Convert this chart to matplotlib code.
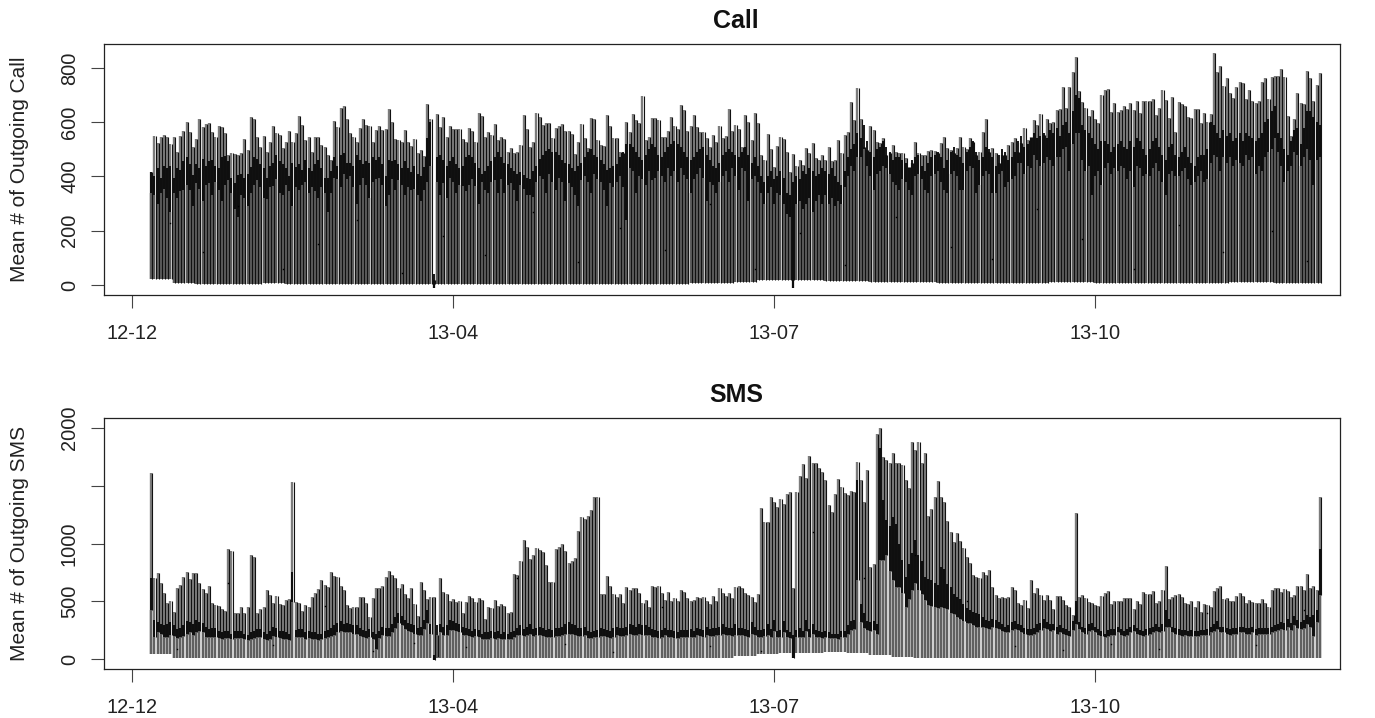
import numpy as np
import matplotlib
matplotlib.use("Agg")
import matplotlib.pyplot as plt

plt.rcParams['font.family'] = ['Liberation Sans', 'DejaVu Sans']

# first day on the axis (days counted from the 12-12 tick)
first_day = 6

tick_days = [0, 100, 200, 300]
tick_labels = ['12-12', '13-04', '13-07', '13-10']

# daily peak, outgoing calls
call_top = [
    418,549,522,544,553,547,519,544,491,549,569,601,564,507,537,611,581,593,596,565,
    547,586,581,559,479,488,483,479,488,539,498,618,611,544,507,549,491,528,586,559,
    553,504,528,569,528,559,623,590,534,547,491,544,544,516,510,479,461,606,581,651,
    661,611,559,547,528,577,612,590,584,528,571,584,571,574,647,600,538,534,528,571,
    528,512,539,485,498,475,667,612,20,630,581,620,547,584,576,574,574,537,528,577,
    569,528,635,623,547,565,553,592,534,547,537,491,506,488,491,516,625,574,510,528,
    635,618,590,596,598,541,577,586,593,569,569,557,483,528,593,541,504,614,612,534,
    516,512,627,584,541,541,491,488,602,565,630,608,596,697,534,547,614,614,608,547,
    547,569,620,584,574,664,645,569,584,627,581,565,565,541,510,553,528,584,541,549,
    647,569,590,574,510,627,602,
    534,635,598,479,461,557,500,436,512,544,539,491,418,482,439,461,442,506,485,525,
    467,461,479,461,510,458,461,534,485,553,565,673,608,725,611,510,498,584,571,528,
    522,543,479,485,516,491,488,485,467,436,451,526,485,479,479,494,498,494,485,522,
    547,504,498,488,504,547,510,500,543,528,479,491,565,611,491,504,485,448,479,479,
    516,528,541,491,525,577,534,547,608,590,630,553,611,596,602,645,647,729,651,729,
    786,839,713,676,651,623,645,611,596,700,719,722,639,670,639,643,661,647,670,645,
    678,633,678,678,678,684,627,651,719,682,614,694,565,676,667,660,620,614,649,649,
    596,635,602,630,854,786,807,735,762,709,688,731,749,746,684,719,679,672,679,747,
    762,684,768,770,770,795,765,623,549,611,706,670,667,790,762,678,737,780,
]

# upper and lower edge of the dark daily band, outgoing calls
call_hi = [
    415,400,430,395,440,430,440,395,430,425,
    455,470,445,405,445,430,465,440,455,460,
    440,430,470,475,455,395,375,405,410,395,
    410,435,470,465,445,430,395,440,450,480,
    455,445,430,400,450,435,445,425,460,430,
    420,445,460,430,395,395,420,470,440,480,
    485,450,450,440,480,460,445,455,450,470,
    460,470,445,400,460,455,460,445,430,455,
    430,415,440,410,400,435,540,600,40,470,
    480,460,440,455,470,445,430,440,470,480,
    470,450,430,410,420,440,455,470,490,470,
    450,445,430,420,410,415,405,395,390,420,
    440,465,480,495,500,490,490,480,460,450,
    445,430,420,440,450,470,490,500,480,470,
    460,445,425,430,440,445,470,490,520,520,
    510,490,470,460,480,500,520,510,480,470,
    490,510,520,530,520,510,490,470,460,470,
    490,500,510,480,460,440,430,450,480,490,
    500,490,480,470,490,510,480,450,470,440,
    400,380,400,420,390,400,420,395,340,330,
    380,400,390,420,410,430,420,400,410,430,
    420,410,430,400,380,370,420,470,500,520,
    560,540,590,530,490,470,500,510,530,510,
    490,460,470,470,460,450,430,460,470,480,
    440,420,450,470,480,490,470,430,460,490,
    510,480,470,450,490,510,530,490,460,470,
    510,500,470,440,480,500,490,460,470,490,
    530,550,510,520,540,560,540,550,560,540,
    570,560,580,550,590,600,560,640,700,690,
    590,570,560,540,520,500,530,530,520,490,
    510,520,530,510,500,530,510,540,530,500,
    480,500,530,540,510,480,460,510,520,480,
    470,490,510,470,450,440,470,480,480,500,
    600,590,560,540,570,550,560,530,540,560,
    530,560,550,540,530,540,560,600,610,640,
    660,560,540,500,480,530,570,580,520,580,
    640,640,620,600,590,
]
call_lo = [
    340,330,300,340,355,320,270,340,320,345,
    350,370,350,290,375,355,310,370,375,330,
    380,350,310,370,385,340,280,250,330,320,
    290,340,370,385,360,320,315,360,365,390,
    340,330,370,345,290,360,350,370,380,340,
    360,345,320,360,340,270,340,395,390,360,
    410,390,400,360,300,370,395,370,320,380,
    390,395,370,290,330,390,350,385,370,330,
    360,350,355,330,310,350,380,440,-12,380,
    330,375,320,395,380,340,370,365,345,370,
    390,365,300,380,350,340,380,385,340,390,
    340,370,375,350,310,370,355,330,330,325,
    380,400,390,340,410,380,350,395,380,310,
    375,360,330,290,385,400,380,340,410,390,
    380,350,290,375,360,380,400,360,240,430,
    420,340,400,390,370,420,385,395,420,400,
    380,430,400,420,380,430,405,390,340,390,
    410,430,395,310,380,370,340,380,400,420,
    380,430,400,350,430,420,310,390,400,380,
    340,300,340,360,300,340,330,300,260,250,
    -10,300,310,280,300,320,270,310,330,300,
    330,300,320,290,310,300,360,400,440,420,
    470,470,500,440,400,350,410,420,440,430,
    410,380,370,350,390,380,350,330,400,410,
    390,350,340,400,410,420,380,350,340,410,
    420,400,350,350,420,440,430,340,370,400,
    420,410,340,340,410,420,360,380,390,400,
    450,450,410,440,430,480,460,440,450,470,
    460,440,470,470,500,510,420,520,560,560,
    460,420,440,330,400,420,370,430,450,410,
    430,420,440,430,390,420,360,440,430,400,
    410,400,430,450,420,380,330,410,420,400,
    400,420,430,390,370,380,400,420,380,390,
    450,480,470,420,470,450,470,440,460,450,
    440,480,460,470,410,440,420,470,490,500,
    540,490,440,380,420,440,490,480,440,470,
    500,460,370,460,470,
]
# lowest value per week, outgoing calls
call_floor = [22,8,5,4,4,6,4,4,4,4,4,5,4,5,4,4,4,5,5,5,5,5,5,5,6,8,12,18,18,17,16,14,12,10,10,
              8,8,8,8,8,10,10,8,8,8,8,8,8,10,10,8,8,8]

# daily peak, outgoing SMS
sms_top = [
    1607,698,741,660,574,482,502,410,612,640,707,756,689,741,741,660,603,574,634,487,
    467,459,433,418,949,938,395,395,453,401,453,900,880,395,430,453,597,554,482,548,
    472,467,511,516,1529,496,482,418,467,447,539,574,603,684,640,620,756,718,707,632,
    597,467,438,447,447,539,539,487,366,525,612,612,635,713,764,727,698,612,649,562,
    525,612,472,370,664,597,522,539,539,20,698,583,562,505,515,490,
    502,401,496,545,525,496,525,511,343,453,438,511,459,476,459,395,407,736,727,851,
    1030,972,863,900,958,943,923,814,669,669,949,972,995,938,828,851,877,1108,1232,1212,
    1238,1290,1405,1405,562,562,718,635,562,534,562,487,620,597,617,617,574,487,511,453,
    635,626,635,574,511,583,505,525,502,597,583,525,502,511,534,525,539,505,473,548,
    505,612,574,548,574,531,620,635,612,574,554,534,496,560,1310,1189,1189,1399,
    1362,1313,1382,1342,1428,1448,612,1448,1584,1688,1564,1757,1700,1700,1651,1622,1550,1333,1275,1428,
    1555,1492,1434,1420,1457,1448,1708,1550,1362,1636,799,822,1948,2000,1746,1723,1694,1780,1700,1694,
    1679,1550,1477,1881,1809,1876,1700,1786,1238,1296,1399,1541,1399,1362,1197,1102,1016,1094,1024,958,
    886,828,727,713,698,756,727,770,626,554,525,539,525,539,626,597,487,467,511,438,
    684,568,612,554,511,554,511,430,545,545,511,467,453,381,1261,539,554,525,496,482,
    467,459,548,574,591,476,502,502,502,531,525,525,430,505,476,583,562,562,586,482,
    502,597,805,516,539,554,562,539,482,476,499,453,502,404,476,464,453,586,617,632,
    516,528,502,502,548,568,548,482,511,496,487,482,516,482,447,597,612,617,583,603,
    586,534,554,632,632,597,733,612,632,597,1399,
]

# upper and lower edge of the dark daily band, outgoing SMS
sms_hi = [
    700,340,320,300,290,300,320,290,260,270,
    290,330,320,300,340,320,310,280,260,270,
    270,240,230,240,240,220,240,240,240,220,
    210,230,240,260,260,230,220,240,280,270,
    240,240,230,220,750,250,260,260,230,240,
    230,230,220,220,240,250,270,290,310,330,
    300,310,300,290,290,270,250,240,260,230,
    220,240,280,270,270,300,360,400,370,340,
    310,300,290,270,280,340,420,300,30,290,
    300,280,290,340,330,310,300,280,270,260,
    240,260,250,220,230,230,240,230,240,220,
    230,220,230,240,270,290,260,280,300,260,
    270,280,270,250,260,250,270,270,280,300,
    320,300,290,270,270,280,240,230,240,250,
    270,260,250,240,270,280,270,270,280,300,
    290,280,300,290,290,280,260,250,240,250,
    270,250,250,240,230,250,250,250,260,240,
    270,260,250,280,260,270,270,280,300,280,
    270,270,300,270,270,260,250,320,280,250,
    250,260,300,260,340,240,250,330,250,230,
    210,250,270,240,340,260,300,250,240,230,
    240,230,220,220,220,240,240,290,330,340,
    1550,480,400,330,320,330,300,1824,1376,1200,
    1150,1232,1170,1000,857,712,820,920,1030,900,
    850,712,690,680,655,640,800,780,650,620,
    560,540,520,480,440,424,410,400,390,366,
    340,330,350,340,320,300,280,290,320,330,
    300,290,270,260,260,270,300,310,350,320,
    300,300,280,290,270,260,240,330,500,320,
    280,270,300,310,280,260,240,220,250,260,
    260,280,260,240,260,280,290,270,250,240,
    260,270,280,300,280,300,420,350,280,270,
    260,250,250,240,250,240,240,250,250,260,
    280,300,330,280,280,270,260,270,270,280,
    280,270,270,280,260,270,270,270,270,280,
    290,300,320,310,350,310,370,340,320,340,
    380,360,380,420,950,
]
sms_lo = [
    420,190,230,220,190,190,210,200,180,190,
    200,220,230,210,230,240,230,190,190,190,
    190,180,170,180,180,170,180,180,180,170,
    160,170,180,190,190,170,160,170,200,190,
    180,170,170,160,490,190,190,190,170,180,
    170,170,160,170,180,190,200,210,230,240,
    230,230,230,220,220,200,190,180,190,170,
    90,180,210,200,200,230,270,310,290,260,
    240,230,220,210,210,260,310,220,-10,210,
    230,210,210,250,250,240,230,210,210,200,
    190,200,190,170,170,170,180,170,180,170,
    170,170,170,190,210,210,200,210,220,200,
    210,210,200,190,190,190,200,200,210,220,
    220,220,210,200,200,210,180,180,190,190,
    200,200,190,180,190,210,200,200,210,220,
    210,210,220,210,210,210,190,190,180,190,
    210,190,190,180,180,190,190,190,190,190,
    210,200,190,210,200,200,210,210,220,210,
    210,200,210,210,210,200,190,220,210,190,
    190,200,210,190,240,190,190,230,190,180,
    5,190,190,190,240,190,220,190,190,180,
    190,180,180,180,170,190,190,220,250,260,
    680,320,270,250,240,250,220,857,857,900,
    760,684,626,620,568,453,520,600,655,600,
    560,510,470,460,453,440,450,440,430,400,
    390,366,350,330,310,310,290,280,280,280,
    270,260,280,270,260,240,230,230,250,260,
    250,230,220,210,210,220,230,250,270,260,
    240,250,220,230,220,210,200,250,300,260,
    230,220,240,250,230,210,200,190,200,210,
    210,230,210,200,210,230,240,220,210,200,
    210,220,230,240,230,240,280,280,230,220,
    210,200,210,200,200,200,200,210,210,210,
    230,240,260,230,230,220,210,220,220,230,
    230,220,220,230,210,220,220,220,220,230,
    240,250,260,250,280,250,290,270,260,270,
    300,280,200,320,550,
]
# lowest value per week, outgoing SMS
sms_floor = [40,8,5,5,5,5,5,5,5,5,5,5,5,5,5,5,5,5,5,5,5,5,5,5,5,10,25,45,50,55,60,50,30,15,10,
             8,6,5,5,5,5,5,5,5,5,5,5,5,5,5,5,5,5]

# single readings that show as specks, day and value
call_dot_day = [12,22,33,47,58,70,84,97,110,125,139,152,166,180,194,208,222,238,255,268,282,296,312,326,340,355,366]
call_dot_val = [230,120,290,60,150,240,45,180,110,270,85,210,130,300,60,190,75,250,140,95,280,170,60,220,120,200,90]
sms_dot_day = [14,30,44,60,75,88,104,120,135,150,165,180,196,212,228,244,260,275,290,305,320,335,350,365]
sms_dot_val = [90,660,120,460,70,140,100,700,130,60,450,110,70,1100,700,900,500,110,80,130,90,400,120,420]


def draw_panel(ax, top, hi, lo, floor, low_color, dark_from_floor, dot_day, dot_val):
    top = np.array(top)
    hi = np.array(hi)
    lo = np.array(lo)
    days = first_day + np.arange(len(top))
    low = np.repeat(floor, 7)[:len(days)]

    # wide grey stroke for the day, darker below the band
    ax.vlines(days, low, top, color='#7c7c7c', linewidth=1.7)
    ax.vlines(days, low, lo, color=low_color, linewidth=1.7)
    # thin black stroke beside it
    start = low if dark_from_floor else lo
    ax.vlines(days + 0.35, start, top, color='#111111', linewidth=0.8)
    # the dark band
    ax.vlines(days, lo, hi, color='#050505', linewidth=1.3)
    ax.plot(dot_day, dot_val, linestyle='none', marker='s', markersize=1.0,
            markeredgewidth=0, color='black')


fig = plt.figure(figsize=(13.75, 7.18), dpi=100)
ax1 = fig.add_axes([104 / 1375, 1 - 295 / 718, 1236 / 1375, 251 / 718])
ax2 = fig.add_axes([104 / 1375, 1 - 669 / 718, 1236 / 1375, 251 / 718])

draw_panel(ax1, call_top, call_hi, call_lo, call_floor, '#5c5c5c', True, call_dot_day, call_dot_val)
draw_panel(ax2, sms_top, sms_hi, sms_lo, sms_floor, '#606060', False, sms_dot_day, sms_dot_val)

ax1.set_ylim(-37, 888)
ax2.set_ylim(-87, 2087)
ax1.set_yticks([0, 200, 400, 600, 800])
# the 1500 tick has no label in the original
ax2.set_yticks([0, 500, 1000, 1500, 2000])
ax2.set_yticklabels(['0', '500', '1000', '', '2000'])
ax1.set_title('Call', fontsize=18, fontweight='bold', x=0.5113, pad=11.5, color='#111111')
ax2.set_title('SMS', fontsize=18, fontweight='bold', x=0.5113, pad=11.5, color='#111111')
ax1.set_ylabel('Mean # of Outgoing Call', fontsize=15, color='#222222', va='center')
ax2.set_ylabel('Mean # of Outgoing SMS', fontsize=15, color='#222222', va='center')

for ax in (ax1, ax2):
    ax.set_xlim(-8.7, 376.3)
    ax.set_xticks(tick_days)
    ax.set_xticklabels(tick_labels)
    ax.yaxis.set_label_coords(-0.068, 0.5)
    ax.tick_params(axis='x', length=9.4, width=0.8, color='#444444', labelsize=14.4, pad=11.5, labelcolor='#222222')
    ax.tick_params(axis='y', length=9.4, width=0.8, color='#444444', labelsize=14.4, pad=8.6, labelcolor='#222222')
    for label in ax.get_yticklabels():
        label.set_rotation(90)
        label.set_va('center')
    for spine in ax.spines.values():
        spine.set_linewidth(0.9)
        spine.set_color('#222222')

fig.savefig('out.png', dpi=100)
